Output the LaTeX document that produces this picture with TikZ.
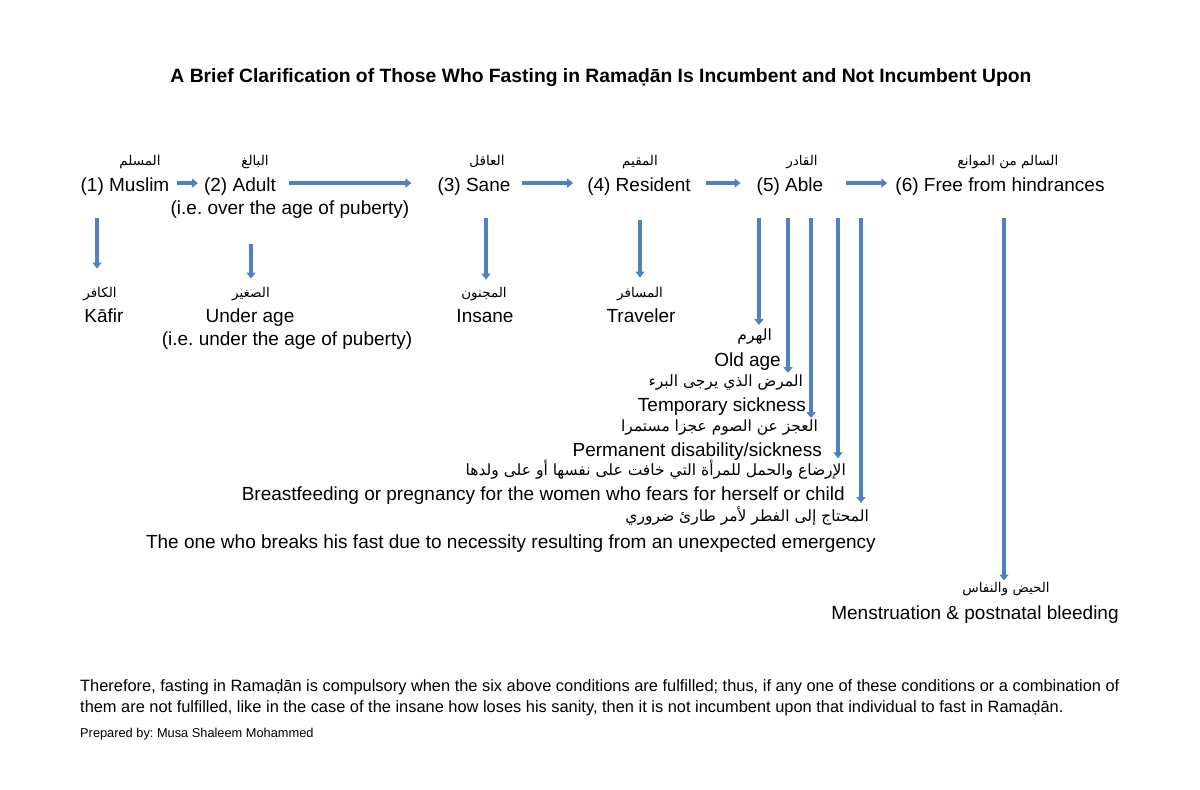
\documentclass[tikz,border=0pt]{standalone}
\usepackage{fontspec}
\setmainfont{Liberation Sans}
\newfontfamily\arabicfont[Script=Arabic]{DejaVu Sans}
\TeXXeTstate=1
\frenchspacing
\usetikzlibrary{arrows.meta}
\definecolor{arrowblue}{RGB}{79,129,189}
\newcommand{\ar}[1]{{\arabicfont\beginR #1\endR}}

\begin{document}
\begin{tikzpicture}[x=1pt,y=-1pt]
            \tikzset{label/.style = {inner sep=0pt, anchor=base, font=\fontsize{19}{22}\selectfont}}
            \tikzset{arab/.style = {inner sep=0pt, anchor=base, font=\fontsize{13.5}{15}\selectfont}}
            \tikzset{arablong/.style = {inner sep=0pt, anchor=base east, font=\fontsize{15.5}{17}\selectfont}}
            \tikzset{flow/.style = {draw=arrowblue, line width=3.4pt, -{Triangle[length=6pt,width=9pt]}}}

            \useasboundingbox[fill=white] (0,0) rectangle (1200,790);

            \node[inner sep=0pt, font=\fontsize{19.3}{22}\selectfont\bfseries] (title) at (601,78) {A Brief Clarification of Those Who Fasting in Rama\d{d}\={a}n Is Incumbent and Not Incumbent Upon};

            % conditions
            \node[label] (muslim) at (125,191) {(1) Muslim};
            \node[label] (adult) at (240,191) {(2) Adult};
            \node[label] (sane) at (474,191) {(3) Sane};
            \node[label] (resident) at (639,191) {(4) Resident};
            \node[label] (able) at (790,191) {(5) Able};
            \node[label] (free) at (1000,191) {(6) Free from hindrances};
            \node[label] (adultnote) at (290,214) {(i.e. over the age of puberty)};

            \node[arab] (muslimar) at (140,165) {\ar{المسلم}};
            \node[arab] (adultar) at (255,165) {\ar{البالغ}};
            \node[arab] (sanear) at (487,165) {\ar{العاقل}};
            \node[arab] (residentar) at (640,165) {\ar{المقيم}};
            \node[arab] (ablear) at (802,165) {\ar{القادر}};
            \node[arab] (freear) at (1008,165) {\ar{السالم من الموانع}};

            % not fulfilled
            \node[arab] (kafirar) at (100,297) {\ar{الكافر}};
            \node[label] (kafir) at (104,322) {K\={a}fir};
            \node[arab] (minorar) at (251,297) {\ar{الصغير}};
            \node[label] (minor) at (250,322) {Under age};
            \node[label] (minornote) at (287,345) {(i.e. under the age of puberty)};
            \node[arab] (insanear) at (484,297) {\ar{المجنون}};
            \node[label] (insane) at (485,322) {Insane};
            \node[arab] (travelar) at (640,297) {\ar{المسافر}};
            \node[label] (travel) at (641,322) {Traveler};

            \node[arablong] (oldar) at (772,340) {\ar{الهرم}};
            \node[label, anchor=base east] (old) at (781,366) {Old age};
            \node[arablong] (tempar) at (803,386) {\ar{المرض الذي يرجى البرء}};
            \node[label, anchor=base east] (temp) at (806,411) {Temporary sickness};
            \node[arablong] (permar) at (818,431) {\ar{العجز عن الصوم عجزا مستمرا}};
            \node[label, anchor=base east] (perm) at (822,456) {Permanent disability/sickness};
            \node[arablong] (nursear) at (846,475) {\ar{الإرضاع والحمل للمرأة التي خافت على نفسها أو على ولدها}};
            \node[label, anchor=base east] (nurse) at (845,500) {Breastfeeding or pregnancy for the women who fears for herself or child};
            \node[arablong] (needar) at (869,521) {\ar{المحتاج إلى الفطر لأمر طارئ ضروري}};
            \node[label, anchor=base east] (need) at (876,548) {The one who breaks his fast due to necessity resulting from an unexpected emergency};
            \node[arab] (bleedar) at (1006,592) {\ar{الحيض والنفاس}};
            \node[label] (bleed) at (975,619) {Menstruation \& postnatal bleeding};

            \draw[flow, shorten <=7pt, shorten >=6pt] ([yshift=3pt]muslim.east) -- ([yshift=3pt]adult.west);
            \draw[flow, shorten <=13pt, shorten >=26pt] ([yshift=3pt]adult.east) -- ([yshift=3pt]sane.west);
            \draw[flow, shorten <=11pt, shorten >=14pt] ([yshift=3pt]sane.east) -- ([yshift=3pt]resident.west);
            \draw[flow, shorten <=15pt, shorten >=16pt] ([yshift=3pt]resident.east) -- ([yshift=3pt]able.west);
            \draw[flow, shorten <=23pt, shorten >=8pt] ([yshift=3pt]able.east) -- ([yshift=3pt]free.west);

            \draw[flow, shorten <=23pt, shorten >=18pt] (muslim.south -| kafirar.north) ++(-3,0) coordinate (s1) -- (s1 |- kafirar.north);
            \draw[flow, shorten <=26pt, shorten >=8pt] (adultnote.south -| minorar.north) -- (minorar.north);
            \draw[flow, shorten <=23pt, shorten >=7pt] (sane.south -| insanear.north) ++(2,0) coordinate (s3) -- (s3 |- insanear.north);
            \draw[flow, shorten <=25pt, shorten >=9pt] (resident.south -| travelar.north) -- (travelar.north);

            \draw[flow, shorten <=23pt, shorten >=3pt] ([xshift=-31pt]able.south) -- ([xshift=-31pt]able.south |- oldar.north);
            \draw[flow, shorten <=23pt, shorten >=1pt] ([xshift=-2pt]able.south) -- ([xshift=-2pt]able.south |- tempar.north);
            \draw[flow, shorten <=23pt, shorten >=1pt] ([xshift=21pt]able.south) -- ([xshift=21pt]able.south |- permar.north);
            \draw[flow, shorten <=23pt, shorten >=1pt] ([xshift=48pt]able.south) -- ([xshift=48pt]able.south |- nursear.north);
            \draw[flow, shorten <=23pt, shorten >=3pt] ([xshift=71pt]able.south) -- ([xshift=71pt]able.south |- needar.north);
            \draw[flow, shorten <=23pt, shorten >=1pt] (free.south -| bleedar.north) ++(-2,0) coordinate (s6) -- (s6 |- bleedar.north);

            \node[inner sep=0pt, anchor=north west, align=left, font=\fontsize{16.4}{21}\selectfont] (summary) at (80,679) {Therefore, fasting in Rama\d{d}\={a}n is compulsory when the six above conditions are fulfilled; thus, if any one of these conditions or a combination of\\them are not fulfilled, like in the case of the insane how loses his sanity, then it is not incumbent upon that individual to fast in Rama\d{d}\={a}n.};
            \node[inner sep=0pt, anchor=base west, font=\fontsize{12.8}{14}\selectfont] (author) at (80,737) {Prepared by: Musa Shaleem Mohammed};
\end{tikzpicture}
\end{document}
